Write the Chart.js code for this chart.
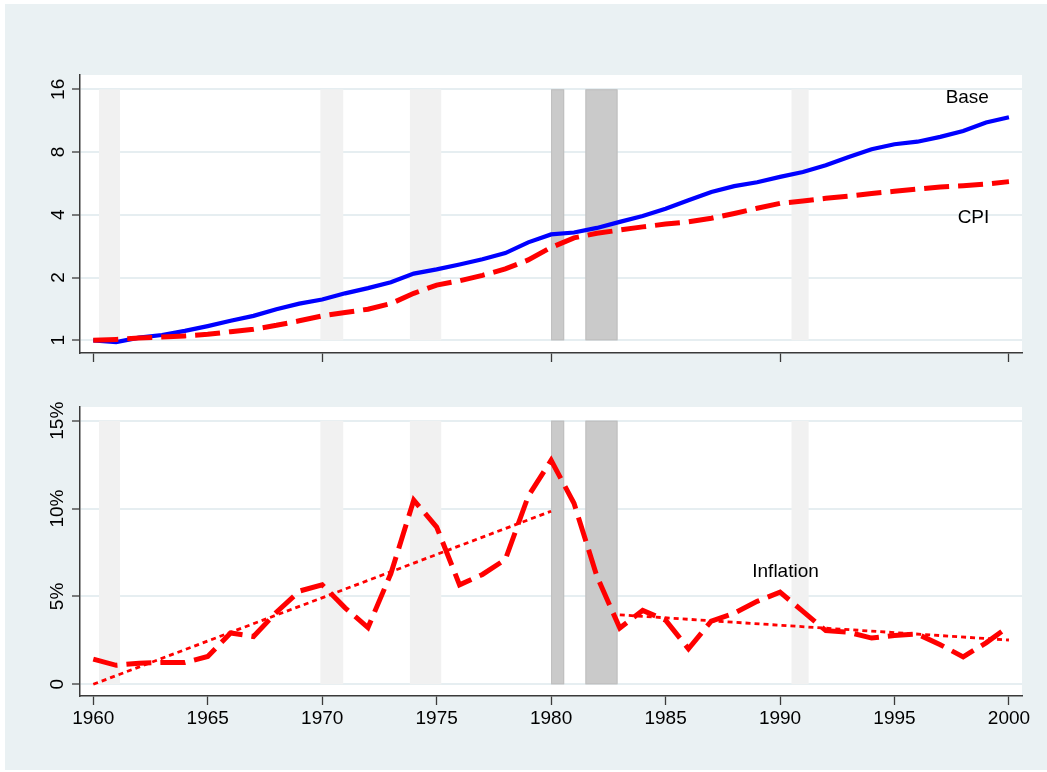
<!DOCTYPE html>
<html><head><meta charset="utf-8">
<script src="https://cdn.jsdelivr.net/npm/chart.js@4.4.1/dist/chart.umd.min.js"></script>
<style>
html,body{margin:0;padding:0;background:#fff;overflow:hidden;}
#wrap{position:absolute;left:0;top:0;width:1047px;height:772px;background:#fff;}
#bg{position:absolute;left:5px;top:4px;width:1042px;height:766px;background:#eaf1f3;}
#c1{position:absolute;left:0;top:0;}
#c2{position:absolute;left:0;top:390px;}
</style></head><body>
<div id="wrap"><div id="bg"></div>
<canvas id="c1" width="1047" height="390"></canvas>
<canvas id="c2" width="1047" height="382"></canvas>
</div>
<script>
// ---------- data ----------
const years = [1960,1961,1962,1963,1964,1965,1966,1967,1968,1969,
               1970,1971,1972,1973,1974,1975,1976,1977,1978,1979,
               1980,1981,1982,1983,1984,1985,1986,1987,1988,1989,
               1990,1991,1992,1993,1994,1995,1996,1997,1998,1999,2000];
const baseIndex = [1.00,0.98,1.03,1.06,1.11,1.17,1.24,1.31,1.41,1.50,
                   1.57,1.68,1.78,1.90,2.09,2.19,2.31,2.45,2.62,2.95,
                   3.22,3.29,3.46,3.70,3.95,4.28,4.70,5.15,5.49,5.73,
                   6.08,6.42,6.91,7.58,8.25,8.72,8.97,9.46,10.1,11.1,11.75];
const cpiIndex  = [1.00,1.01,1.025,1.037,1.05,1.068,1.10,1.13,1.18,1.24,
                   1.31,1.36,1.41,1.50,1.68,1.84,1.93,2.05,2.20,2.43,
                   2.79,3.10,3.26,3.38,3.50,3.61,3.70,3.85,4.06,4.30,
                   4.54,4.66,4.80,4.92,5.06,5.19,5.32,5.44,5.52,5.62,5.77];
const inflation = [1.43,1.08,1.2,1.24,1.24,1.58,2.92,2.72,4.1,5.3,
                   5.66,4.35,3.23,6.3,10.48,8.95,5.66,6.25,7.1,10.7,
                   12.75,10.3,6.15,3.2,4.2,3.65,2.02,3.6,4.05,4.72,
                   5.24,4.15,3.05,2.96,2.63,2.78,2.86,2.25,1.56,2.36,3.3];
const trendEarlyYears = [1960, 1980];
const trendEarlyValues = [0.0, 9.85];
const trendLateYears = [1983, 2000];
const trendLateValues = [3.95, 2.52];
const recessionStart = [1960.25, 1969.92, 1973.83, 1980.0, 1981.5, 1990.5];
const recessionEnd   = [1961.17, 1970.92, 1975.2, 1980.57, 1982.9, 1991.25];
const recessionDark  = [false, false, false, true, true, false];
const topYTicks = [1, 2, 4, 8, 16];
const bottomYTicks = [0, 5, 10, 15];
const topXTicks = [1960, 1970, 1980, 1990, 2000];
const bottomXTicks = [1960, 1965, 1970, 1975, 1980, 1985, 1990, 1995, 2000];

// ---------- styling ----------
const FONT = "'Liberation Sans', Arial, Helvetica, sans-serif";
const axisColor = '#3a3a3a';
const gridColor = '#e6eef1';
const RED = '#ff0000', BLUE = '#0000ff';
const pts = (xs, ys) => xs.map((x, i) => ({x: x, y: ys[i]}));

const plotPlugin = {
  id: 'plotDecor',
  beforeDraw(chart) {
    const {ctx, chartArea: a} = chart;
    ctx.save();
    ctx.fillStyle = '#ffffff';
    ctx.fillRect(a.left, a.top, a.right - a.left, a.bottom - a.top);
    ctx.restore();
  },
  beforeDatasetsDraw(chart, args, opts) {
    const {ctx} = chart;
    const xs = chart.scales.x, ys = chart.scales.y;
    const yT = ys.getPixelForValue(opts.bandTop);
    const yB = ys.getPixelForValue(opts.bandBottom);
    ctx.save();
    recessionStart.forEach((s, i) => {
      const x0 = xs.getPixelForValue(s), x1 = xs.getPixelForValue(recessionEnd[i]);
      ctx.fillStyle = recessionDark[i] ? '#cacaca' : '#f1f1f1';
      ctx.fillRect(x0, yT, x1 - x0, yB - yT);
      if (recessionDark[i]) {
        ctx.strokeStyle = '#bebebe'; ctx.lineWidth = 1;
        ctx.strokeRect(x0 + 0.5, yT + 0.5, x1 - x0 - 1, yB - yT - 1);
      }
    });
    ctx.restore();
  },
  afterDatasetsDraw(chart, args, opts) {
    const {ctx} = chart;
    const xs = chart.scales.x, ys = chart.scales.y;
    ctx.save();
    ctx.font = '19px ' + FONT;
    ctx.fillStyle = '#000';
    ctx.textAlign = 'center';
    ctx.textBaseline = 'middle';
    (opts.labels || []).forEach(l => {
      ctx.fillText(l.text, xs.getPixelForValue(l.x), ys.getPixelForValue(l.y));
    });
    ctx.restore();
  }
};
Chart.register(plotPlugin);

const tickFont = {family: FONT, size: 19};

// ---------- top chart ----------
new Chart(document.getElementById('c1'), {
  type: 'line',
  data: {
    datasets: [
      {label: 'CPI', data: pts(years, cpiIndex), borderColor: RED, borderWidth: 5,
       borderDash: [25, 9], pointRadius: 0, tension: 0, fill: false},
      {label: 'Base', data: pts(years, baseIndex), borderColor: BLUE, borderWidth: 4.2,
       pointRadius: 0, tension: 0, fill: false}
    ]
  },
  options: {
    responsive: false, animation: false,
    layout: {padding: {top: 75, right: 25, bottom: 0, left: 0}},
    plugins: {
      legend: {display: false}, tooltip: {enabled: false},
      plotDecor: {bandTop: 16, bandBottom: 1,
        labels: [{text: 'Base', x: 1998.18, y: 14.6}, {text: 'CPI', x: 1998.45, y: 3.87}]}
    },
    scales: {
      x: {type: 'linear', min: 1959.42, max: 2000.57,
        afterBuildTicks: s => { s.ticks = topXTicks.map(v => ({value: v})); },
        afterFit: s => { s.height = 37; },
        grid: {drawOnChartArea: false, drawTicks: true, tickLength: 9, tickColor: axisColor, tickWidth: 1.3},
        border: {display: true, color: axisColor, width: 1.5},
        ticks: {display: false}
      },
      y: {type: 'logarithmic', min: 0.8691, max: 18.74,
        afterBuildTicks: s => { s.ticks = topYTicks.map(v => ({value: v})); },
        afterFit: s => { s.width = 80; },
        grid: {color: gridColor, lineWidth: 2, drawTicks: true, tickLength: 8, tickColor: axisColor, tickWidth: 1.3},
        border: {display: true, color: axisColor, width: 1.5},
        ticks: {minRotation: 90, maxRotation: 90, crossAlign: 'center', padding: 3,
          font: tickFont, color: '#000', callback: v => String(v)}
      }
    }
  }
});

// ---------- bottom chart ----------
new Chart(document.getElementById('c2'), {
  type: 'line',
  data: {
    datasets: [
      {label: 'Inflation', data: pts(years, inflation), borderColor: RED, borderWidth: 5,
       borderDash: [25, 9], pointRadius: 0, tension: 0, fill: false},
      {label: 'Trend 1960-1980', data: pts(trendEarlyYears, trendEarlyValues), borderColor: RED, borderWidth: 2.8,
       borderDash: [5, 4], pointRadius: 0, tension: 0, fill: false},
      {label: 'Trend 1983-2000', data: pts(trendLateYears, trendLateValues), borderColor: RED, borderWidth: 2.8,
       borderDash: [5, 4], pointRadius: 0, tension: 0, fill: false}
    ]
  },
  options: {
    responsive: false, animation: false,
    layout: {padding: {top: 17, right: 25, bottom: 0, left: 0}},
    plugins: {
      legend: {display: false}, tooltip: {enabled: false},
      plotDecor: {bandTop: 15, bandBottom: 0,
        labels: [{text: 'Inflation', x: 1990.24, y: 6.39}]}
    },
    scales: {
      x: {type: 'linear', min: 1959.42, max: 2000.57,
        afterBuildTicks: s => { s.ticks = bottomXTicks.map(v => ({value: v})); },
        afterFit: s => { s.height = 76; },
        grid: {drawOnChartArea: false, drawTicks: true, tickLength: 9, tickColor: axisColor, tickWidth: 1.3},
        border: {display: true, color: axisColor, width: 1.5},
        ticks: {font: tickFont, color: '#000', padding: 2, maxRotation: 0, minRotation: 0, autoSkip: false,
          callback: v => String(v)}
      },
      y: {type: 'linear', min: -0.667, max: 15.78,
        afterBuildTicks: s => { s.ticks = bottomYTicks.map(v => ({value: v})); },
        afterFit: s => { s.width = 80; },
        grid: {color: gridColor, lineWidth: 2, drawTicks: true, tickLength: 8, tickColor: axisColor, tickWidth: 1.3},
        border: {display: true, color: axisColor, width: 1.5},
        ticks: {minRotation: 90, maxRotation: 90, crossAlign: 'center', padding: -5,
          font: tickFont, color: '#000', callback: v => (v === 0 ? '0' : v + '%')}
      }
    }
  }
});
</script>
</body></html>
